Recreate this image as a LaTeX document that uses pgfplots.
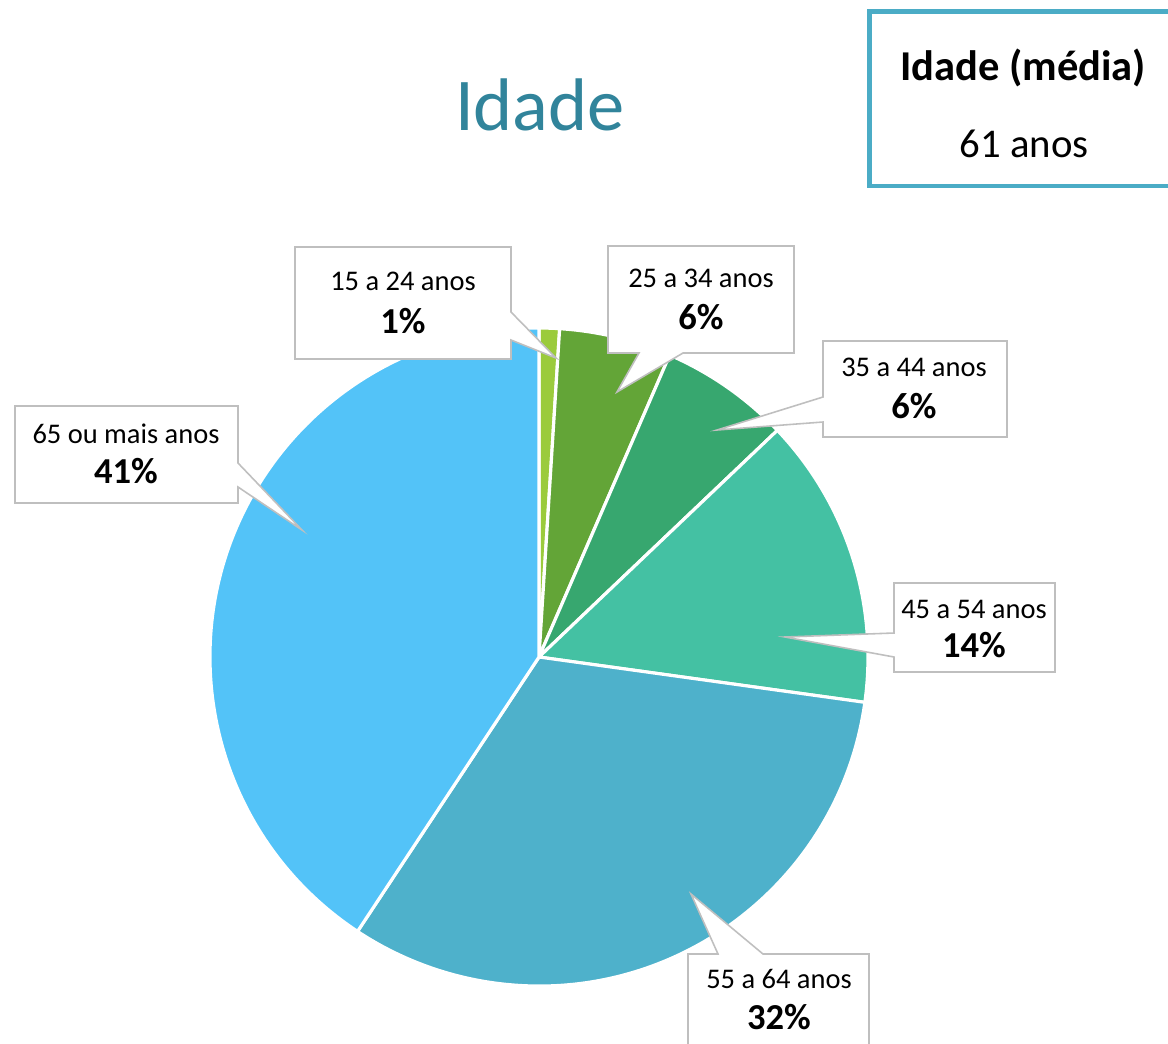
\documentclass[border=0pt]{standalone}
\usepackage{pgfplots}
\usepackage{pgfplotstable}
\pgfplotsset{compat=1.18}
\usepackage{fontspec}
\setmainfont{Carlito}

\definecolor{c1}{HTML}{9BCB3C}
\definecolor{c2}{HTML}{63A537}
\definecolor{c3}{HTML}{37A76F}
\definecolor{c4}{HTML}{44C1A3}
\definecolor{c5}{HTML}{4EB1CB}
\definecolor{c6}{HTML}{53C3F8}
\definecolor{titlecol}{HTML}{31849B}
\definecolor{boxcol}{HTML}{4BACC6}
\definecolor{callgray}{HTML}{BFBFBF}

% age groups, share in percent, clockwise from 12 o'clock
\pgfplotstableread{
pct  col
1.0  c1
5.5  c2
6.4  c3
14.3 c4
32.1 c5
40.7 c6
}\agedata

\tikzset{callout/.style={fill=white,draw=callgray,line width=0.45pt,line join=miter},
  lab/.style={anchor=base,font=\fontsize{8.1}{9}\selectfont,inner sep=0pt},
  pct/.style={anchor=base,font=\fontsize{10.4}{12}\selectfont\bfseries,inner sep=0pt}}

\begin{document}
\begin{tikzpicture}
\begin{axis}[scale only axis,width=11.68cm,height=10.44cm,
  xmin=0,xmax=1168,ymin=0,ymax=1044,y dir=reverse,hide axis,clip=false]
\pgfplotsextra{
  \gdef\cum{0}
  \foreach \i in {0,...,5}{
    \pgfplotstablegetelem{\i}{pct}\of\agedata \let\v\pgfplotsretval
    \pgfplotstablegetelem{\i}{col}\of\agedata \let\c\pgfplotsretval
    \pgfmathsetmacro\aa{90-3.6*\cum}
    \pgfmathsetmacro\bb{90-3.6*(\cum+\v)}
    \filldraw[fill=\c,draw=white,line width=0.9pt,line join=round]
      (axis cs:539,657) -- ++(\aa:3.29cm) arc[start angle=\aa,end angle=\bb,radius=3.29cm] -- cycle;
    \pgfmathsetmacro\nc{\cum+\v}\xdef\cum{\nc}
  }
}
% callouts
\draw[callout] (axis cs:295,247) -- (axis cs:511,247) -- (axis cs:511,312) -- (axis cs:556,358)
  -- (axis cs:511,340) -- (axis cs:511,359) -- (axis cs:295,359) -- cycle;
\draw[callout] (axis cs:608,246) -- (axis cs:794,246) -- (axis cs:794,353) -- (axis cs:683,353)
  -- (axis cs:617,392) -- (axis cs:639,353) -- (axis cs:608,353) -- cycle;
\draw[callout] (axis cs:823,341) -- (axis cs:1007,341) -- (axis cs:1007,437) -- (axis cs:823,437)
  -- (axis cs:823,422) -- (axis cs:717,430) -- (axis cs:823,397) -- cycle;
\draw[callout] (axis cs:894,583) -- (axis cs:1055,583) -- (axis cs:1055,672) -- (axis cs:894,672)
  -- (axis cs:894,657) -- (axis cs:785,637) -- (axis cs:894,633) -- cycle;
\draw[callout] (axis cs:688,954) -- (axis cs:718,954) -- (axis cs:691,894) -- (axis cs:763,954)
  -- (axis cs:869,954) -- (axis cs:869,1070) -- (axis cs:688,1070) -- cycle;
\draw[callout] (axis cs:15,406) -- (axis cs:238,406) -- (axis cs:238,463) -- (axis cs:302,530)
  -- (axis cs:238,487) -- (axis cs:238,503) -- (axis cs:15,503) -- cycle;

\node[lab] at (axis cs:403,290) {15 a 24 anos};
\node[pct] at (axis cs:403,333) {1\%};
\node[lab] at (axis cs:701,287) {25 a 34 anos};
\node[pct] at (axis cs:701,329) {6\%};
\node[lab] at (axis cs:914,376) {35 a 44 anos};
\node[pct] at (axis cs:914,418) {6\%};
\node[lab] at (axis cs:974,618) {45 a 54 anos};
\node[pct] at (axis cs:974,657) {14\%};
\node[lab] at (axis cs:779,988) {55 a 64 anos};
\node[pct] at (axis cs:779,1029) {32\%};
\node[lab] at (axis cs:126,443) {65 ou mais anos};
\node[pct] at (axis cs:126,483) {41\%};

% title and mean box
\node[anchor=base,inner sep=0pt,text=titlecol,font=\fontsize{21.2}{25}\selectfont] at (axis cs:540,130) {Idade};
\draw[boxcol,line width=1.4pt] (axis cs:869.5,11.5) rectangle (axis cs:1180,186);
\node[anchor=base,inner sep=0pt,font=\fontsize{12.1}{14}\selectfont\bfseries] at (axis cs:1023,80) {Idade (média)};
\node[anchor=base,inner sep=0pt,font=\fontsize{11.6}{13}\selectfont] at (axis cs:1024,157) {61 anos};
\end{axis}
\pgfresetboundingbox
\path (current axis.south west) rectangle (current axis.north east);
\end{tikzpicture}
\end{document}
